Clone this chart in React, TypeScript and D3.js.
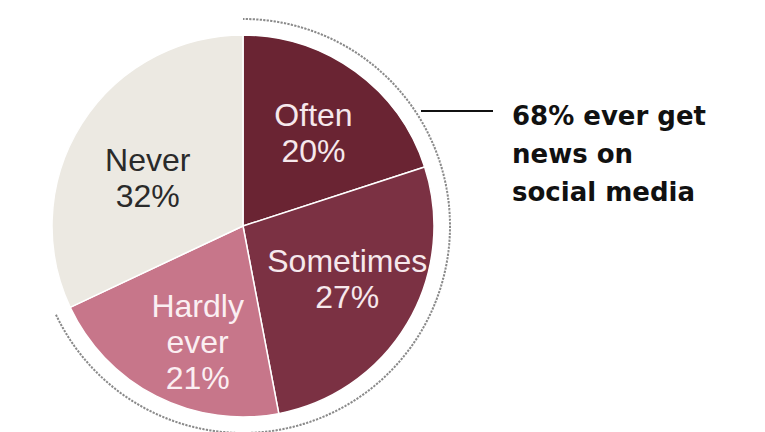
import React from "react";
import * as d3 from "d3";

const categories = ["Often", "Sometimes", "Hardly ever", "Never"];
const values = [20, 27, 21, 32];
const labelLines = [["Often", "20%"], ["Sometimes", "27%"], ["Hardly", "ever", "21%"], ["Never", "32%"]];
const colors = ["#6a2433", "#7b3143", "#c7768a", "#ece9e2"];
const textColors = ["#f6e8ec", "#f6e8ec", "#fbeff2", "#2a2a2a"];
const everShare = 68;
const calloutLines = ["68% ever get", "news on", "social media"];

export default function App() {
  const W = 765, H = 432;
  const cx = 243, cy = 226, R = 191, Rdot = 207;
  const pie = d3.pie<number>().sort(null).value((d) => d)(values);
  const arc = d3.arc<d3.PieArcDatum<number>>().innerRadius(0).outerRadius(R);
  const labelR = [0.61, 0.61, 0.65, 0.56];
  const nudge = [[2, 1], [4, -6], [11, 5], [-5, 9]];
  const dotArc = d3.arc()({ innerRadius: Rdot, outerRadius: Rdot, startAngle: 0, endAngle: (everShare / 100) * 2 * Math.PI }) as string;
  const lineH = 36;
  return (
    <svg width={W} height={H} style={{ position: "absolute", left: 0, top: 0, background: "#fff" }} fontFamily="'Liberation Sans', Arial, sans-serif">
      <g transform={`translate(${cx},${cy})`}>
        {pie.map((p, i) => (
          <path key={categories[i]} d={arc(p) as string} fill={colors[i]} stroke="#fff" strokeWidth={1.5} />
        ))}
        <path d={dotArc} fill="none" stroke="#8a8a8a" strokeWidth={2} strokeDasharray="1.5 2" />
        {pie.map((p, i) => {
          const c = d3.arc<d3.PieArcDatum<number>>().innerRadius(R * labelR[i]).outerRadius(R * labelR[i]).centroid(p);
          const x = c[0] + nudge[i][0];
          const y = c[1] + nudge[i][1];
          const lines = labelLines[i];
          const y0 = y - ((lines.length - 1) * lineH) / 2 + 11;
          return (
            <text key={"t" + i} textAnchor="middle" fill={textColors[i]} fontSize={32}>
              {lines.map((l, j) => (
                <tspan key={j} x={x} y={y0 + j * lineH}>{l}</tspan>
              ))}
            </text>
          );
        })}
      </g>
      <line x1={421} x2={493} y1={111} y2={111} stroke="#111" strokeWidth={2} />
      <text fill="#111" fontSize={26} fontWeight="bold" fontFamily="'DejaVu Sans', sans-serif">
        {calloutLines.map((l, j) => (
          <tspan key={j} x={512} y={125 + j * 38}>{l}</tspan>
        ))}
      </text>
    </svg>
  );
}
